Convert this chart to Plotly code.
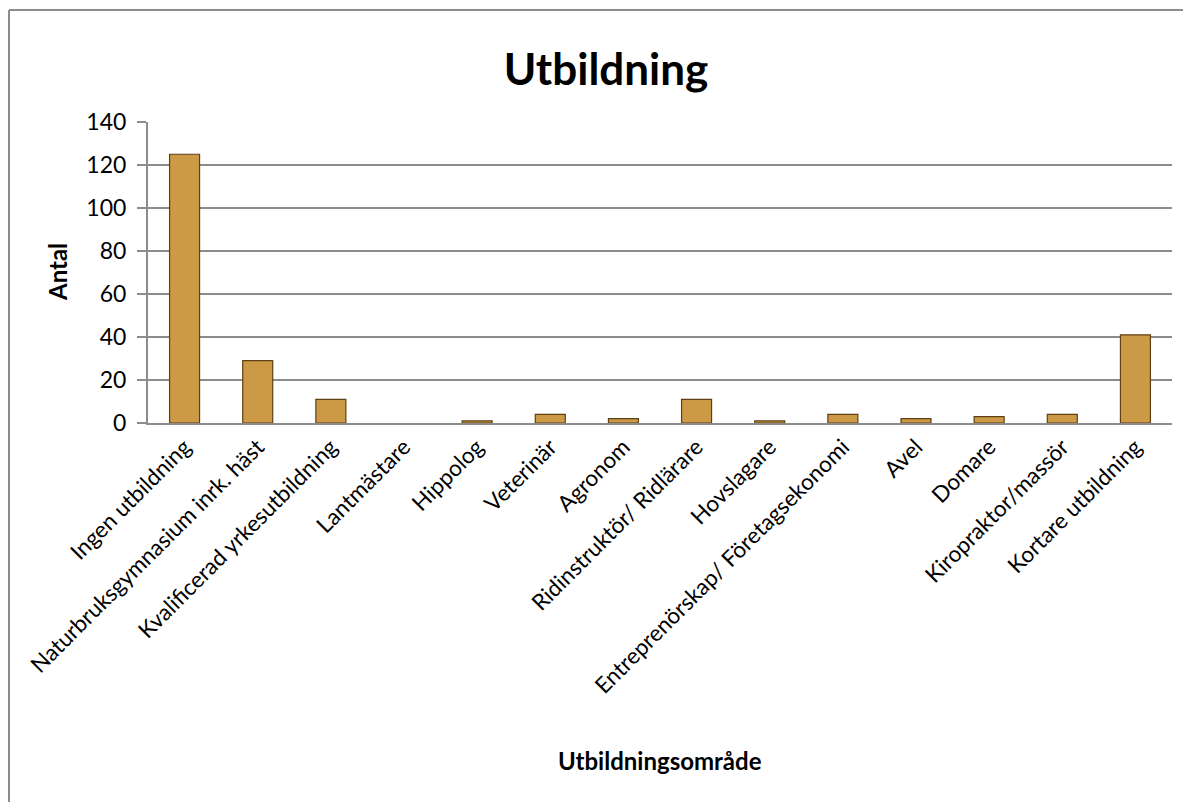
import plotly.graph_objects as go

# Data
categories = [
    "Ingen utbildning",
    "Naturbruksgymnasium inrk. häst",
    "Kvalificerad yrkesutbildning",
    "Lantmästare",
    "Hippolog",
    "Veterinär",
    "Agronom",
    "Ridinstruktör/ Ridlärare",
    "Hovslagare",
    "Entreprenörskap/ Företagsekonomi",
    "Avel",
    "Domare",
    "Kiropraktor/massör",
    "Kortare utbildning",
]
antal = [125, 29, 11, 0, 1, 4, 2, 11, 1, 4, 2, 3, 4, 41]
y_ticks = [0, 20, 40, 60, 80, 100, 120, 140]

font_family = "Lato, 'Open Sans', sans-serif"

# page body has an 8px margin, so the figure is shifted by that much
W, H = 1183, 794
L, T, R, B = 140, 114, 19, 379
pw, ph = W - L - R, H - T - B


def px_x(x):
    return (x - 8 - L) / pw


def px_y(y):
    return (H - B - (y - 8)) / ph


fig = go.Figure()
fig.add_trace(go.Bar(
    x=categories,
    y=antal,
    width=0.41,
    marker=dict(color="#CC9946",
                line=dict(color="#5E4015", width=[0 if v == 0 else 1.2 for v in antal])),
))

fig.update_layout(
    width=W,
    height=H,
    paper_bgcolor="white",
    plot_bgcolor="white",
    showlegend=False,
    font=dict(family=font_family, color="black"),
    title=dict(
        text="<b>Utbildning</b>",
        x=px_x(606), xref="paper", xanchor="center",
        y=(H - 62) / H, yanchor="middle",
        font=dict(size=44, family=font_family),
    ),
    margin=dict(l=L, r=R, t=T, b=B),
    xaxis=dict(
        tickangle=-45,
        tickfont=dict(size=22.5),
        showgrid=False,
        showline=True,
        linecolor="#8c8c8c",
        linewidth=2,
        ticks="",
    ),
    yaxis=dict(
        range=[0, 140],
        tickvals=y_ticks,
        tickfont=dict(size=23),
        ticklabelstandoff=6,
        showgrid=True,
        gridcolor="#8c8c8c",
        gridwidth=1.5,
        showline=True,
        linecolor="#8c8c8c",
        linewidth=2,
        ticks="outside",
        ticklen=9,
        tickcolor="#8c8c8c",
        tickwidth=1.5,
        zeroline=False,
    ),
    annotations=[
        dict(text="<b>Utbildningsområde</b>", xref="paper", yref="paper",
             x=px_x(660), y=px_y(760), xanchor="center", yanchor="middle",
             showarrow=False, font=dict(size=24)),
        dict(text="<b>Antal</b>", xref="paper", yref="paper", textangle=-90,
             x=px_x(57), y=px_y(272), xanchor="center", yanchor="middle",
             showarrow=False, font=dict(size=24)),
    ],
    shapes=[
        dict(type="line", xref="paper", yref="paper",
             x0=px_x(9), x1=px_x(9), y0=px_y(10), y1=px_y(810),
             line=dict(color="#8c8c8c", width=2)),
        dict(type="line", xref="paper", yref="paper",
             x0=px_x(9), x1=px_x(1200), y0=px_y(10), y1=px_y(10),
             line=dict(color="#8c8c8c", width=2)),
    ],
)

fig.write_html("out.html")
